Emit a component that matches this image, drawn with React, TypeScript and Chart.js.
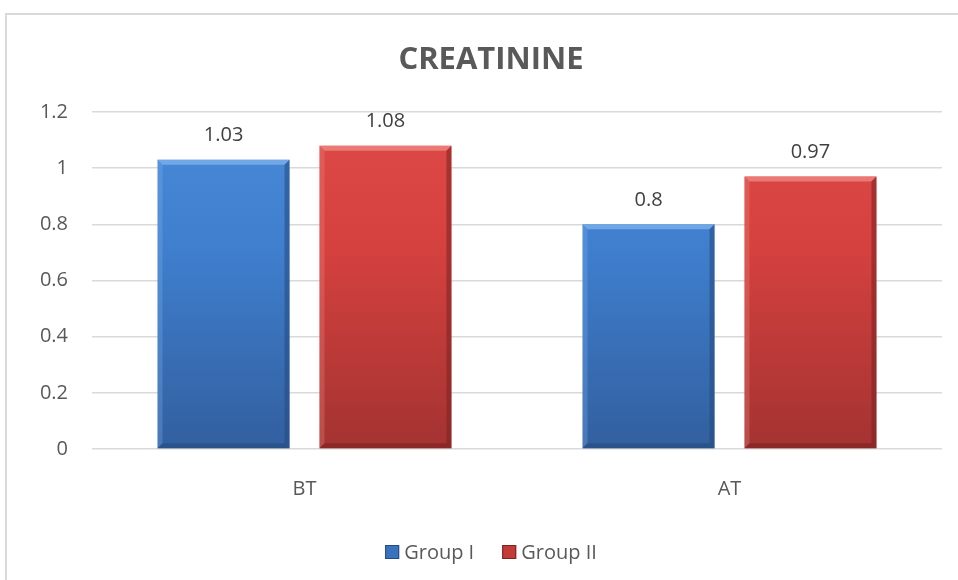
import React, { useEffect, useRef } from "react";
import { Chart, registerables } from "chart.js";

Chart.register(...registerables);

const categories = ["BT", "AT"];
const seriesNames = ["Group I", "Group II"];
const groupI = [1.03, 0.8];
const groupII = [1.08, 0.97];
const yTickLabels = ["0", "0.2", "0.4", "0.6", "0.8", "1", "1.2"];
const titleText = "CREATININE";

const FONT = "'Open Sans', sans-serif";
const TEXT = "#595959";
const CENTER_X = 491;

const palettes = [
  { top: "#4a8bd9", mid: "#3f7fce", bottom: "#325f9f", light: "#7fb3ee", dark: "#254a7d", legend: "#3a73bd" },
  { top: "#dd4a47", mid: "#d5413f", bottom: "#a33331", light: "#f08a86", dark: "#7a2321", legend: "#c23b39" },
];

const framePlugin = {
  id: "frame",
  beforeDraw(chart: any) {
    const ctx = chart.ctx;
    ctx.save();
    ctx.fillStyle = "#ffffff";
    ctx.fillRect(0, 0, chart.width, chart.height);
    ctx.strokeStyle = "#d9d9d9";
    ctx.lineWidth = 2;
    ctx.strokeRect(6, 14, chart.width + 10, chart.height + 10);
    ctx.restore();
  },
  afterDraw(chart: any) {
    const ctx = chart.ctx;
    ctx.save();
    ctx.fillStyle = TEXT;
    ctx.font = `bold 31px ${FONT}`;
    ctx.textAlign = "center";
    ctx.textBaseline = "middle";
    ctx.fillText(titleText, CENTER_X, 60);
    ctx.font = `20px ${FONT}`;
    const box = 14;
    const gapText = 5;
    const gapItem = 28;
    const widths = seriesNames.map((n) => box + gapText + ctx.measureText(n).width);
    const total = widths.reduce((a, b) => a + b, 0) + gapItem * (seriesNames.length - 1);
    let x = CENTER_X - total / 2;
    const cy = 552;
    ctx.textAlign = "left";
    seriesNames.forEach((n, i) => {
      const p = palettes[i];
      ctx.fillStyle = p.legend;
      ctx.fillRect(x, cy - box / 2, box, box);
      ctx.strokeStyle = p.dark;
      ctx.lineWidth = 1;
      ctx.strokeRect(x + 0.5, cy - box / 2 + 0.5, box - 1, box - 1);
      ctx.fillStyle = TEXT;
      ctx.fillText(n, x + box + gapText, cy + 1);
      x += widths[i] + gapItem;
    });
    ctx.restore();
  },
};

const bevelPlugin = {
  id: "bevel",
  afterDatasetsDraw(chart: any) {
    const ctx = chart.ctx;
    chart.data.datasets.forEach((ds: any, di: number) => {
      const meta = chart.getDatasetMeta(di);
      const p = palettes[di];
      meta.data.forEach((bar: any, i: number) => {
        const { x, y, base, width } = bar.getProps(["x", "y", "base", "width"], true);
        const l = x - width / 2;
        const r = x + width / 2;
        const b = 5;
        ctx.save();
        ctx.fillStyle = p.light;
        ctx.globalAlpha = 0.75;
        ctx.beginPath();
        ctx.moveTo(l, y);
        ctx.lineTo(r, y);
        ctx.lineTo(r - b, y + b);
        ctx.lineTo(l + b, y + b);
        ctx.closePath();
        ctx.fill();
        ctx.globalAlpha = 0.3;
        ctx.beginPath();
        ctx.moveTo(l, y);
        ctx.lineTo(l + b, y + b);
        ctx.lineTo(l + b, base - b);
        ctx.lineTo(l, base);
        ctx.closePath();
        ctx.fill();
        ctx.fillStyle = p.dark;
        ctx.globalAlpha = 0.55;
        ctx.beginPath();
        ctx.moveTo(r, y);
        ctx.lineTo(r - b, y + b);
        ctx.lineTo(r - b, base - b);
        ctx.lineTo(r, base);
        ctx.closePath();
        ctx.fill();
        ctx.globalAlpha = 0.6;
        ctx.beginPath();
        ctx.moveTo(l, base);
        ctx.lineTo(l + b, base - b);
        ctx.lineTo(r - b, base - b);
        ctx.lineTo(r, base);
        ctx.closePath();
        ctx.fill();
        ctx.restore();

        ctx.save();
        ctx.fillStyle = "#404040";
        ctx.font = `20px ${FONT}`;
        ctx.textAlign = "center";
        ctx.textBaseline = "middle";
        ctx.fillText(String(ds.data[i]), x, y - 24);
        ctx.restore();
      });
    });
  },
};

function makeFill(di: number) {
  return (context: any) => {
    const chart = context.chart;
    const area = chart.chartArea;
    if (!area) return palettes[di].mid;
    const g = chart.ctx.createLinearGradient(0, area.top, 0, area.bottom);
    g.addColorStop(0, palettes[di].top);
    g.addColorStop(0.4, palettes[di].mid);
    g.addColorStop(1, palettes[di].bottom);
    return g;
  };
}

export default function App() {
  const ref = useRef<HTMLCanvasElement | null>(null);

  useEffect(() => {
    if (!ref.current) return;
    const chart = new Chart(ref.current, {
      type: "bar",
      data: {
        labels: categories,
        datasets: [
          {
            label: seriesNames[0],
            data: groupI,
            backgroundColor: makeFill(0),
            categoryPercentage: 0.762,
            barPercentage: 0.815,
          },
          {
            label: seriesNames[1],
            data: groupII,
            backgroundColor: makeFill(1),
            categoryPercentage: 0.762,
            barPercentage: 0.815,
          },
        ],
      },
      options: {
        animation: false,
        responsive: true,
        maintainAspectRatio: false,
        layout: { padding: { left: 0, right: 16, top: 112, bottom: 59 } },
        plugins: {
          tooltip: { enabled: false },
          title: { display: false },
          legend: { display: false },
        },
        scales: {
          x: {
            grid: { display: false },
            border: { display: false },
            ticks: { color: TEXT, font: { family: FONT, size: 20 }, padding: 20 },
          },
          y: {
            min: 0,
            max: 1.2,
            afterFit: (scale: any) => {
              scale.width = 92;
            },
            grid: { color: "#d9d9d9", lineWidth: 1.5, drawTicks: false },
            border: { display: false },
            ticks: {
              stepSize: 0.2,
              color: TEXT,
              font: { family: FONT, size: 20 },
              padding: 24,
              callback: (_v: any, idx: number) => yTickLabels[idx],
            },
          },
        },
      },
      plugins: [framePlugin, bevelPlugin],
    });
    return () => chart.destroy();
  }, []);

  return (
    <div style={{ position: "fixed", left: 0, top: 0, width: 958, height: 580 }}>
      <canvas ref={ref} style={{ width: "100%", height: "100%" }} />
    </div>
  );
}
